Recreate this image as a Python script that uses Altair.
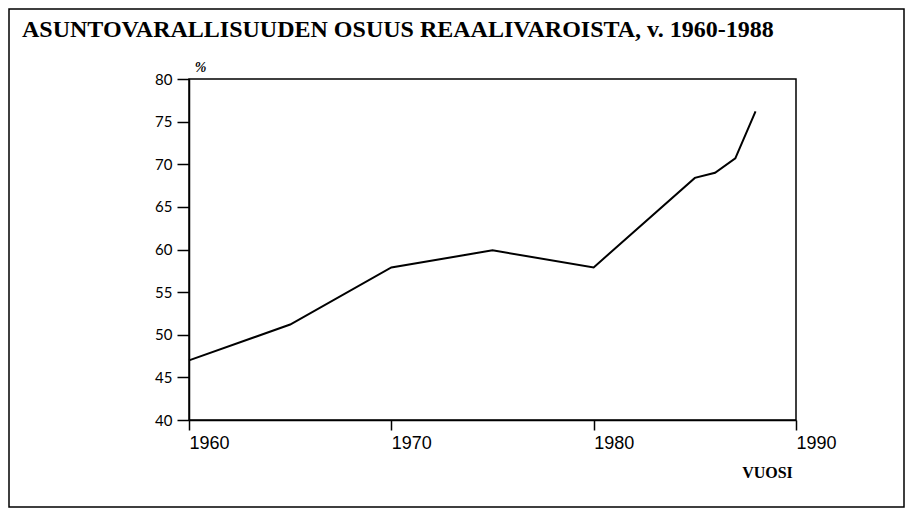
import altair as alt
import pandas as pd

years = [1960, 1965, 1970, 1975, 1980, 1985, 1986, 1987, 1988]
share = [47.0, 51.2, 57.9, 59.9, 57.9, 68.4, 69.0, 70.7, 76.2]
x_ticks = [1960, 1970, 1980, 1990]
y_ticks = [40, 45, 50, 55, 60, 65, 70, 75, 80]
title_text = "ASUNTOVARALLISUUDEN OSUUS REAALIVAROISTA, v. 1960-1988"
x_title = "VUOSI"
y_title = "%"

df = pd.DataFrame({"vuosi": years, "osuus": share})
one = pd.DataFrame({"k": [0]})

W, H = 607, 341

line = alt.Chart(df).mark_line(color="black", strokeWidth=2).encode(
    x=alt.X("vuosi:Q",
            scale=alt.Scale(domain=[1960, 1990], nice=False, zero=False),
            axis=alt.Axis(values=x_ticks, format="d", title=x_title,
                          labelAlign="left", labelBaseline="top", labelPadding=4,
                          labelFlush=False, labelOverlap=False,
                          labelFont="Liberation Sans", labelFontSize=18,
                          labelColor="black", tickSize=10,
                          titleFont="Liberation Serif", titleFontSize=16,
                          titleFontWeight="bold", titleColor="black",
                          titleX=578, titleY=57, titleAlign="center",
                          titleBaseline="alphabetic")),
    y=alt.Y("osuus:Q",
            scale=alt.Scale(domain=[40, 80], nice=False, zero=False),
            axis=alt.Axis(values=y_ticks, title=y_title, titleAngle=0,
                          titleX=11, titleY=-5, titleAlign="center",
                          titleBaseline="bottom",
                          titleFont="Liberation Serif", titleFontSize=14,
                          titleFontWeight="bold", titleFontStyle="italic",
                          titleColor="black",
                          labelFont="Lato", labelFontSize=15, labelColor="black",
                          labelPadding=5, tickSize=12)),
)

border = alt.Chart(one).mark_rect(fill=None, stroke="black", strokeWidth=1.5).encode(
    x=alt.value(-180), x2=alt.value(715), y=alt.value(-70), y2=alt.value(428)
)

title = alt.Chart(one).mark_text(
    text=title_text, align="left", baseline="alphabetic",
    font="Liberation Serif", fontSize=24, fontWeight="bold", color="black"
).encode(x=alt.value(-167), y=alt.value(-42))

chart = alt.layer(border, title, line).properties(
    width=W, height=H,
    padding={"left": 181, "top": 71, "right": 109, "bottom": 88},
    autosize=alt.AutoSizeParams(type="none"),
).configure_view(stroke="black", strokeWidth=1.5).configure_axis(
    grid=False, domainColor="black", domainWidth=1.5, tickColor="black", tickWidth=1.5
)

chart.save("out.html", embed_options={"renderer": "svg", "actions": False})
